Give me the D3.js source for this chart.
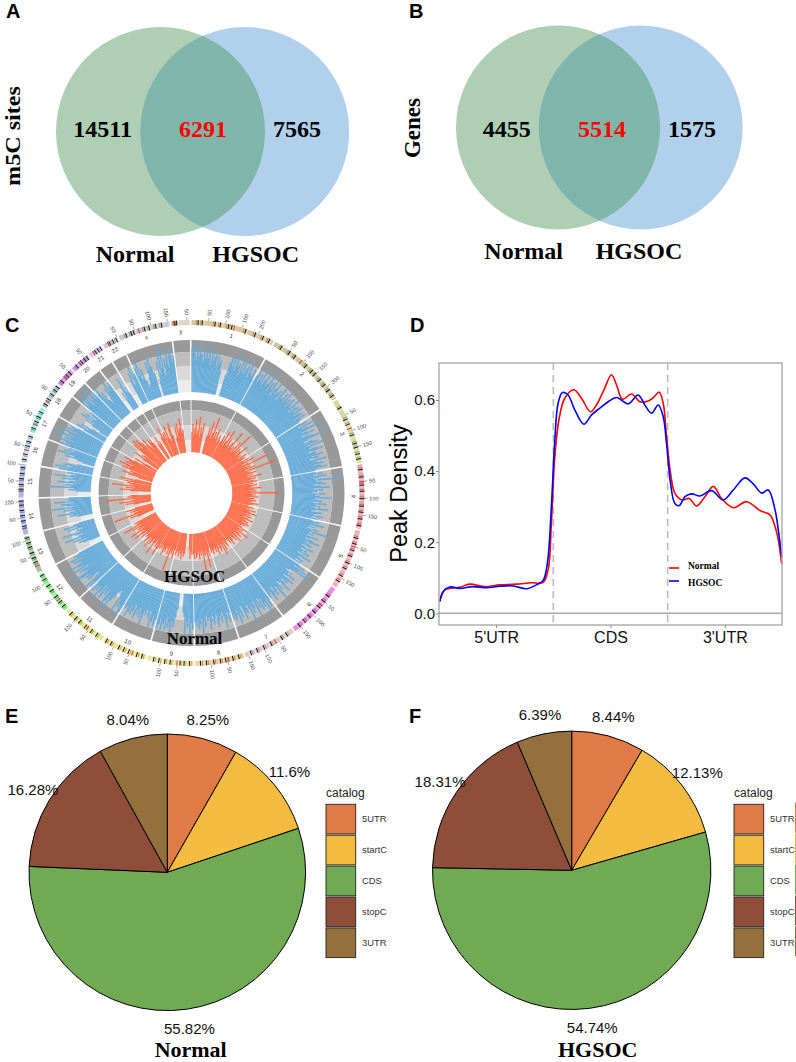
<!DOCTYPE html>
<html>
<head>
<meta charset="utf-8">
<script src="https://cdnjs.cloudflare.com/ajax/libs/d3/7.8.5/d3.min.js"></script>
<style>
body { margin: 0; background: #fff; }
svg { display: block; }
</style>
</head>
<body>
<script>
'use strict';

// venn counts
var vennSetNames = ["Normal", "HGSOC"];
var sitesCounts = [14511, 6291, 7565];
var geneCounts = [4455, 5514, 1575];

// chromosomes, lengths in Mb
var chromNames = ["1","2","3","4","5","6","7","8","9","10","11","12","13","14","15","16","17","18","19","20","21","22","x","y"];
var chromLengths = [249,243,198,191,181,171,159,146,141,135,135,133,115,107,102,90,81,78,59,63,48,51,155,59];
var chromColors = ["#dcc69c","#cdc89c","#d6d8a8","#eaa4b0","#f0b0b8","#e98fe0","#e0c8c8","#e8cd98","#f0e4a4","#efe394","#e0ea8c","#9cf09c","#a4c8a0","#aeb6ee","#aab8e4","#c8d8f0","#8ee8e0","#b0d0d0","#cf8de0","#c8a0e8","#d8c8f0","#c8c8d4","#c9c9c9","#ddd6c8"];
var centromeres = [125,93,91,50,48,61,60,45,49,40,54,36,18,17,19,37,24,17,27,27,13,15,60,12];
var darkBands = [
  [18,30,68,84,108,118,160,190,215,235],
  [22,50,70,112,135,148,170,190,210,230],
  [24,62,78,112,138,150,170,185],
  [14,36,60,78,100,122,140,160,180],
  [22,40,60,78,100,118,142,160],
  [28,48,70,90,110,130,150],
  [20,38,74,98,120,140],
  [14,32,54,70,90,112,130],
  [12,28,40,70,86,104,120],
  [10,26,52,68,84,110,126],
  [20,40,62,84,100,120],
  [12,28,48,70,88,110,124],
  [30,44,60,78,92,108],
  [24,40,56,72,88,100],
  [24,38,56,72,90],
  [8,24,50,64,80],
  [12,34,50,66],
  [8,26,44,60,72],
  [12,36,48],
  [14,34,46,56],
  [20,30,40],
  [20,32,44],
  [20,36,44,78,92,112,130],
  [8,16]
];

// bar heights per chromosome, percent of track height
var normalBars = [
  [78,92,70,55,84,62,90,68,50,74,58,88,60,72,46,82,55,66,76,44,70,52,60,40,0,0,0,0,34,62,80,54,72,46,86,58,66,42,76,50,84,48,62,70,44,78,56,52,68,46],
  [58,74,46,66,52,82,44,60,72,48,56,86,42,64,50,70,38,58,76,46,54,62,40,72,52,48,66,44,78,50,60,42,68,54,46,74,40,58,64,48,70,44,56,62,42,66,50,46],
  [46,60,38,72,44,54,88,40,50,66,36,48,58,94,42,34,52,62,38,76,44,40,56,68,36,50,46,64,40,54,34,70,42,48,60,38,52,66,44,40],
  [40,54,34,62,44,36,90,38,48,58,34,46,66,32,52,40,30,56,36,44,70,34,42,50,32,60,38,46,34,64,40,30,52,42,36,56,32,44],
  [36,50,40,62,34,44,30,54,38,72,36,46,34,58,42,32,50,66,36,44,52,32,40,60,34,48,38,56,30,44,64,36,42,50,34,46],
  [48,62,40,70,52,78,44,36,30,46,38,58,42,34,62,44,52,36,48,66,40,34,54,44,72,38,46,56,34,50,64,40,44,52],
  [52,68,44,78,50,60,40,64,36,56,44,72,38,50,60,42,80,46,38,54,48,66,42,34,58,46,70,40,52,60,44,56],
  [40,58,36,50,70,44,34,54,40,48,62,36,44,56,38,50,66,40,46,36,58,44,72,40,52,62,42,56,46],
  [62,48,72,40,58,44,78,36,28,0,0,0,0,24,40,60,46,74,50,62,42,68,48,56,72,44,60,70],
  [52,66,44,58,72,38,54,46,36,50,42,74,48,60,40,56,44,66,38,52,62,42,58,70,46,54,48],
  [68,80,52,62,44,72,36,28,34,48,58,86,50,66,74,42,56,46,70,40,60,78,48,62,52,68,46],
  [64,50,74,42,32,58,46,60,50,70,82,44,54,62,40,72,48,58,80,46,52,64,42,70,48,56,44],
  [0,0,0,0,14,26,34,18,44,26,60,30,20,36,62,24,30,18,46,28,54,32,22],
  [0,0,0,0,22,36,28,60,34,24,46,30,72,26,40,50,24,64,32,42,34],
  [0,0,0,0,20,34,24,72,30,42,26,58,34,22,48,28,66,32,24,40],
  [58,40,68,34,52,44,24,0,0,16,26,52,34,70,42,58,36,48],
  [74,48,60,84,44,66,52,90,46,62,72,42,80,56,64,48],
  [38,56,30,48,24,0,12,28,44,26,60,34,52,28,40,46],
  [80,58,92,64,74,50,86,60,70,94,56,72],
  [60,76,44,58,36,28,40,62,46,72,50,58,66],
  [0,0,0,32,18,44,62,28,40,24],
  [0,0,0,0,44,60,32,74,46,54],
  [64,44,74,36,56,30,18,22,34,66,48,82,54,40,0,0,24,60,36,78,44,90,30,64,50,86,42,70,84,52,66],
  [0,0,0,0,0,0,0,0,0,0,0,0]
];
var hgsocBars = [
  [30,46,24,38,56,26,34,62,22,42,28,50,0,0,0,0,26,44,30,58,24,36,70,28,40,26,48,30,22,36,28],
  [26,40,30,52,22,34,60,26,44,30,24,38,66,28,34,22,48,26,74,30,40,24,36,52,28,32,24,42,30,36],
  [28,42,30,52,24,36,80,26,38,30,46,24,92,28,34,44,26,36,24,54,30,40,26,34,42],
  [32,24,40,30,26,48,34,22,38,28,86,26,36,30,42,24,34,28,38,30,24,44,32,26],
  [24,36,28,22,42,26,32,46,24,34,28,38,22,32,44,26,30,36,24,40,28,34,26],
  [30,44,24,36,28,52,26,34,40,24,32,46,26,38,30,24,34,42,26,36,28],
  [26,38,32,24,42,28,50,26,34,40,24,32,44,28,36,26,30,38,28,34],
  [24,40,30,62,26,36,32,70,24,34,28,42,26,32,38,28,40,30],
  [32,26,40,24,0,0,0,0,30,36,26,42,32,26,38,30,28,36],
  [28,44,26,36,32,76,24,40,30,26,38,32,46,28,34,26,36],
  [40,54,30,38,24,32,60,34,26,42,30,50,28,36,44,30,34],
  [30,42,26,36,54,28,34,58,26,38,32,46,28,66,34,30,38],
  [0,0,0,0,26,40,24,74,30,22,36,28,44,26],
  [0,0,0,26,42,24,54,30,22,80,28,36,30],
  [0,0,0,0,30,52,26,40,22,70,32,26,38],
  [44,30,56,24,0,0,20,40,54,32,38],
  [58,42,50,66,38,54,44,48,60,40],
  [22,40,16,0,0,26,46,22,32,28],
  [58,44,66,40,62,52,48],
  [40,52,32,26,46,38,44,34],
  [0,0,26,42,24,30],
  [0,0,34,54,32,40],
  [42,28,52,24,20,46,56,30,0,0,22,44,26,50,34,40,60,30,36],
  [0,0,0,0,0,0,0]
];

// metagene density
var regionNames = ["5'UTR", "CDS", "3'UTR"];
var normalX = [0.006,0.05,0.093,0.181,0.268,0.4,0.531,0.677,0.808,0.91,0.954,0.983,1.013,1.051,1.1,1.179,1.246,1.325,1.377,1.442,1.509,1.553,1.605,1.684,1.757,1.83,1.879,1.926,1.961,1.99,2.025,2.063,2.122,2.189,2.253,2.326,2.399,2.472,2.574,2.691,2.807,2.895,2.939,2.968,2.997];
var normalY = [0.033,0.066,0.07,0.073,0.082,0.075,0.08,0.082,0.086,0.087,0.122,0.253,0.441,0.548,0.605,0.629,0.605,0.567,0.586,0.628,0.671,0.642,0.602,0.617,0.595,0.597,0.608,0.622,0.591,0.497,0.394,0.338,0.319,0.323,0.302,0.328,0.357,0.323,0.297,0.314,0.289,0.277,0.244,0.206,0.139];
var hgsocX = [0.006,0.035,0.093,0.181,0.298,0.414,0.531,0.648,0.765,0.852,0.91,0.948,0.983,1.013,1.042,1.08,1.129,1.188,1.267,1.334,1.407,1.48,1.553,1.655,1.742,1.8,1.859,1.917,1.961,1.99,2.025,2.063,2.101,2.151,2.209,2.282,2.384,2.486,2.574,2.676,2.749,2.822,2.88,2.939,2.968,2.997];
var hgsocY = [0.033,0.061,0.074,0.07,0.075,0.072,0.076,0.077,0.069,0.08,0.092,0.141,0.3,0.488,0.591,0.621,0.614,0.572,0.532,0.558,0.577,0.595,0.607,0.589,0.614,0.586,0.563,0.586,0.553,0.478,0.366,0.309,0.303,0.328,0.336,0.33,0.345,0.319,0.347,0.381,0.364,0.338,0.347,0.291,0.234,0.159];

// pies
var catalog = ["5UTR", "startC", "CDS", "stopC", "3UTR"];
var catalogColors = ["#E07B45", "#F4BB41", "#70AA55", "#8F4E3A", "#94703F"];
var normalShares = [8.25, 11.6, 55.82, 16.28, 8.04];
var hgsocShares = [8.44, 12.13, 54.74, 18.31, 6.39];

var SANS = "'Liberation Sans', Arial, sans-serif";
var SERIF = "'Liberation Serif', 'Times New Roman', serif";

var svg = d3.select("body").append("svg")
  .attr("width", 796)
  .attr("height", 1062);

function label(x, y, text, size, family, weight, anchor, color) {
  return svg.append("text")
    .attr("x", x)
    .attr("y", y)
    .attr("font-family", family)
    .attr("font-size", size)
    .attr("font-weight", weight || "normal")
    .attr("text-anchor", anchor || "middle")
    .attr("fill", color || "#000")
    .text(text);
}

[["A", 6, 17.5], ["B", 409, 17.5], ["C", 5, 332], ["D", 410, 332], ["E", 5, 723], ["F", 409, 723]].forEach(function(p) {
  label(p[1], p[2], p[0], 20, SANS, "bold", "start");
});

//venn diagrams
function venn(id, opt, counts, rowTitle) {
  var g = svg.append("g");
  g.append("clipPath").attr("id", id).append("circle")
    .attr("cx", opt.cx[0]).attr("cy", opt.cy).attr("r", opt.r);

  g.append("circle").attr("cx", opt.cx[0]).attr("cy", opt.cy).attr("r", opt.r).attr("fill", "#AFCFB4");
  g.append("circle").attr("cx", opt.cx[1]).attr("cy", opt.cy).attr("r", opt.r).attr("fill", "#B1D0EB");
  g.append("circle").attr("cx", opt.cx[1]).attr("cy", opt.cy).attr("r", opt.r)
    .attr("fill", "#80B5A9").attr("clip-path", "url(#" + id + ")");

  counts.forEach(function(c, i) {
    label(opt.countX[i], opt.countY, c, 24, SERIF, "bold", "middle", i == 1 ? "#f00" : "#000");
  });
  vennSetNames.forEach(function(n, i) {
    label(opt.nameX[i], opt.nameY, n, 24, SERIF, "bold");
  });
  label(0, 0, rowTitle, opt.titleSize, SERIF, "bold")
    .attr("textLength", opt.titleLength)
    .attr("lengthAdjust", "spacingAndGlyphs")
    .attr("transform", "translate(" + opt.titleX + "," + opt.titleY + ") rotate(-90)");
}

venn("vennA", {cx: [160.5, 244.7], cy: 131.5, r: 104.5, countX: [102.7, 203, 297], countY: 136.5,
  nameX: [135, 255.7], nameY: 262, titleX: 20, titleY: 136, titleSize: 22, titleLength: 100}, sitesCounts, "m5C sites");
venn("vennB", {cx: [558, 640.7], cy: 127.5, r: 102, countX: [506.7, 602, 692], countY: 137,
  nameX: [523.7, 639], nameY: 259, titleX: 420, titleY: 128, titleSize: 23, titleLength: 60}, geneCounts, "Genes");

//circos plot
var circos = svg.append("g").attr("transform", "translate(191.5,493)");
var totalMb = d3.sum(chromLengths);
var starts = d3.cumsum([0].concat(chromLengths));
var gapMb = 5;
var angle = d3.scaleLinear().domain([0, totalMb]).range([0, 2 * Math.PI]);
var arc = d3.arc();

var normalBands = [[141, 153, "#999999"], [127, 141, "#bdbdbd"], [113, 127, "#d9d9d9"], [101, 113, "#ececec"]];
var hgsocBands = [[83, 93, "#999999"], [68, 83, "#bdbdbd"], [53, 68, "#d9d9d9"], [41, 53, "#ececec"]];
var normalR = d3.scalePow().exponent(0.8).domain([0, 100]).range([101, 153]);
var hgsocR = d3.scalePow().exponent(0.8).domain([0, 100]).range([41, 93]);

function track(bands, bars, r, color) {
  chromLengths.forEach(function(len, i) {
    var from = starts[i], to = starts[i] + len - gapMb;
    var g = circos.append("g");
    bands.forEach(function(b) {
      g.append("path")
        .attr("fill", b[2])
        .attr("d", arc({innerRadius: b[0], outerRadius: b[1], startAngle: angle(from), endAngle: angle(to)}));
    });
    var x = d3.scaleBand().domain(d3.range(bars[i].length)).range([from, to]);
    g.selectAll("path.bar")
      .data(bars[i].filter(function(v) { return v > 0; }).length ? bars[i] : [])
      .enter().append("path")
      .attr("class", "bar")
      .attr("fill", color)
      .attr("stroke", function(v) { return v > 0 ? color : "none"; })
      .attr("stroke-width", 0.25)
      .attr("d", function(v, j) {
        return arc({innerRadius: r(0), outerRadius: r(v), startAngle: angle(x(j)), endAngle: angle(x(j) + x.bandwidth())});
      });
  });
}

track(normalBands, normalBars, normalR, "#66ACDA");
track(hgsocBands, hgsocBars, hgsocR, "#FF6A45");

//ideogram, ticks and names
function polar(a, r) {
  return [r * Math.sin(a), -r * Math.cos(a)];
}

chromLengths.forEach(function(len, i) {
  var g = circos.append("g");
  var from = starts[i];
  var mb = function(v) { return angle(from + v * (len - gapMb) / len); };
  var seg = function(a, b, color, opacity) {
    g.append("path").attr("fill", color).attr("fill-opacity", opacity || 1)
      .attr("d", arc({innerRadius: 168, outerRadius: 173, startAngle: mb(a), endAngle: mb(b)}));
  };
  seg(0, len, chromColors[i]);
  darkBands[i].forEach(function(b) {
    seg(b - 5, b - 3, "#000", 0.35);
    seg(b, b + 3, "#1d1608");
    seg(b + 6, b + 9, "#fff", 0.4);
  });
  seg(centromeres[i], centromeres[i] + 3, "#d8392b");

  d3.range(50, len, 50).forEach(function(t) {
    var a = mb(t), deg = a * 180 / Math.PI;
    var p0 = polar(a, 173), p1 = polar(a, 176), p2 = polar(a, 178);
    g.append("line").attr("x1", p0[0]).attr("y1", p0[1]).attr("x2", p1[0]).attr("y2", p1[1])
      .attr("stroke", "#555").attr("stroke-width", 0.5);
    var flip = deg > 180;
    g.append("text")
      .attr("transform", "translate(" + p2 + ") rotate(" + (flip ? deg + 90 : deg - 90) + ")")
      .attr("text-anchor", flip ? "end" : "start")
      .attr("dominant-baseline", "central")
      .attr("font-family", SANS)
      .attr("font-size", 5.5)
      .attr("fill", "#444")
      .text(t);
  });

  var mid = mb(len / 2), midDeg = mid * 180 / Math.PI;
  var pn = polar(mid, 162);
  g.append("text")
    .attr("transform", "translate(" + pn + ") rotate(" + (midDeg > 90 && midDeg < 270 ? midDeg - 180 : midDeg) + ")")
    .attr("text-anchor", "middle")
    .attr("dominant-baseline", "central")
    .attr("font-family", SANS)
    .attr("font-size", 6)
    .attr("fill", "#333")
    .text(chromNames[i]);
});

label(194.7, 581.5, "HGSOC", 17, SERIF, "bold");
label(194.5, 644, "Normal", 17, SERIF, "bold");

//density plot
var xD = d3.scaleLinear().domain([0, 3]).range([439, 782]);
var yD = d3.scaleLinear().domain([0, 0.6]).range([613.3, 400]);
var panel = {left: 439, right: 782, top: 363, bottom: 625};

svg.append("line")
  .attr("x1", panel.left).attr("x2", panel.right)
  .attr("y1", yD(0)).attr("y2", yD(0))
  .attr("stroke", "#aaa").attr("stroke-width", 1.5);

[1, 2].forEach(function(v) {
  svg.append("line")
    .attr("x1", xD(v)).attr("x2", xD(v))
    .attr("y1", panel.top).attr("y2", panel.bottom)
    .attr("stroke", "#bbb").attr("stroke-width", 1.6)
    .attr("stroke-dasharray", "7,5");
});

var line = d3.line()
  .x(function(d) { return xD(d[0]); })
  .y(function(d) { return yD(d[1]); })
  .curve(d3.curveCatmullRom.alpha(0.5));

[[normalX, normalY, "#f00"], [hgsocX, hgsocY, "#00f"]].forEach(function(s) {
  svg.append("path")
    .datum(d3.zip(s[0], s[1]))
    .attr("fill", "none")
    .attr("stroke", s[2])
    .attr("stroke-width", 1.6)
    .attr("d", line);
});

svg.append("rect")
  .attr("x", panel.left).attr("y", panel.top)
  .attr("width", panel.right - panel.left).attr("height", panel.bottom - panel.top)
  .attr("fill", "none").attr("stroke", "#aaa").attr("stroke-width", 1.4);

var yAxis = svg.append("g")
  .attr("transform", "translate(" + panel.left + ",0)")
  .call(d3.axisLeft(yD).tickValues([0, 0.2, 0.4, 0.6]).tickFormat(d3.format(".1f")).tickSize(3).tickPadding(1));
var xAxis = svg.append("g")
  .attr("transform", "translate(0," + panel.bottom + ")")
  .call(d3.axisBottom(xD).tickValues([0.5, 1.5, 2.5]).tickFormat(function(d) { return regionNames[Math.floor(d)]; }).tickSize(3).tickPadding(4));
[yAxis, xAxis].forEach(function(a) {
  a.select(".domain").remove();
  a.selectAll(".tick line").attr("stroke", "#888");
  a.selectAll("text").attr("font-family", SANS).attr("fill", "#111");
});
yAxis.selectAll("text").attr("font-size", 15);
xAxis.selectAll("text").attr("font-size", 16);

label(0, 0, "Peak Density", 23.5, SANS)
  .attr("transform", "translate(407,493.5) rotate(-90)");

[["Normal", "#f00", 568, 569], ["HGSOC", "#00f", 581, 586]].forEach(function(d) {
  svg.append("line")
    .attr("x1", 669).attr("x2", 679)
    .attr("y1", d[2]).attr("y2", d[2])
    .attr("stroke", d[1]).attr("stroke-width", 1.6);
  label(688, d[3], d[0], 9.5, SERIF, "bold", "start");
});

//pie charts
function pie(shares, cx, cy, r, title, titleX) {
  var g = svg.append("g").attr("transform", "translate(" + cx + "," + cy + ")");
  var arcs = d3.pie().sort(null)(shares);
  var outer = d3.arc().innerRadius(0).outerRadius(r);
  var tag = d3.arc().innerRadius(r + 19.7).outerRadius(r + 19.7);

  g.selectAll("path")
    .data(arcs)
    .enter().append("path")
    .attr("d", outer)
    .attr("fill", function(d, i) { return catalogColors[i]; })
    .attr("stroke", "#000")
    .attr("stroke-width", 1);

  g.selectAll("text")
    .data(arcs)
    .enter().append("text")
    .attr("transform", function(d) { return "translate(" + tag.centroid(d) + ")"; })
    .attr("text-anchor", "middle")
    .attr("dominant-baseline", "central")
    .attr("font-family", SANS)
    .attr("font-size", 15)
    .attr("fill", "#111")
    .text(function(d) { return d.value + "%"; });

  label(titleX, 1057, title, 22, SERIF, "bold");
}

function swatches(x, y0, strokeColor) {
  var rowY = d3.scaleBand().domain(catalog).range([y0, y0 + 153.3]).paddingInner(0.04);
  catalog.forEach(function(c, i) {
    svg.append("rect")
      .attr("x", x).attr("y", rowY(c))
      .attr("width", 29.7).attr("height", rowY.bandwidth())
      .attr("fill", catalogColors[i])
      .attr("stroke", strokeColor)
      .attr("stroke-width", 0.9);
  });
  return rowY;
}

function legend(x, y0, textX) {
  var rowY = swatches(x, y0, "#222");
  label(x, y0 - 7, "catalog", 12, SANS, "normal", "start", "#222");
  catalog.forEach(function(c) {
    label(textX, rowY(c) + rowY.bandwidth() / 2 + 3.3, c, 9.4, SANS, "normal", "start", "#333");
  });
}

pie(normalShares, 167.3, 872.3, 138.3, "Normal", 190.7);
pie(hgsocShares, 571.7, 870.3, 139.2, "HGSOC", 597.7);
legend(326, 804.3, 362);
legend(734, 804.3, 770);
//edge of the next legend, cut by the page
swatches(795, 802.8, "none");
</script>
</body>
</html>
